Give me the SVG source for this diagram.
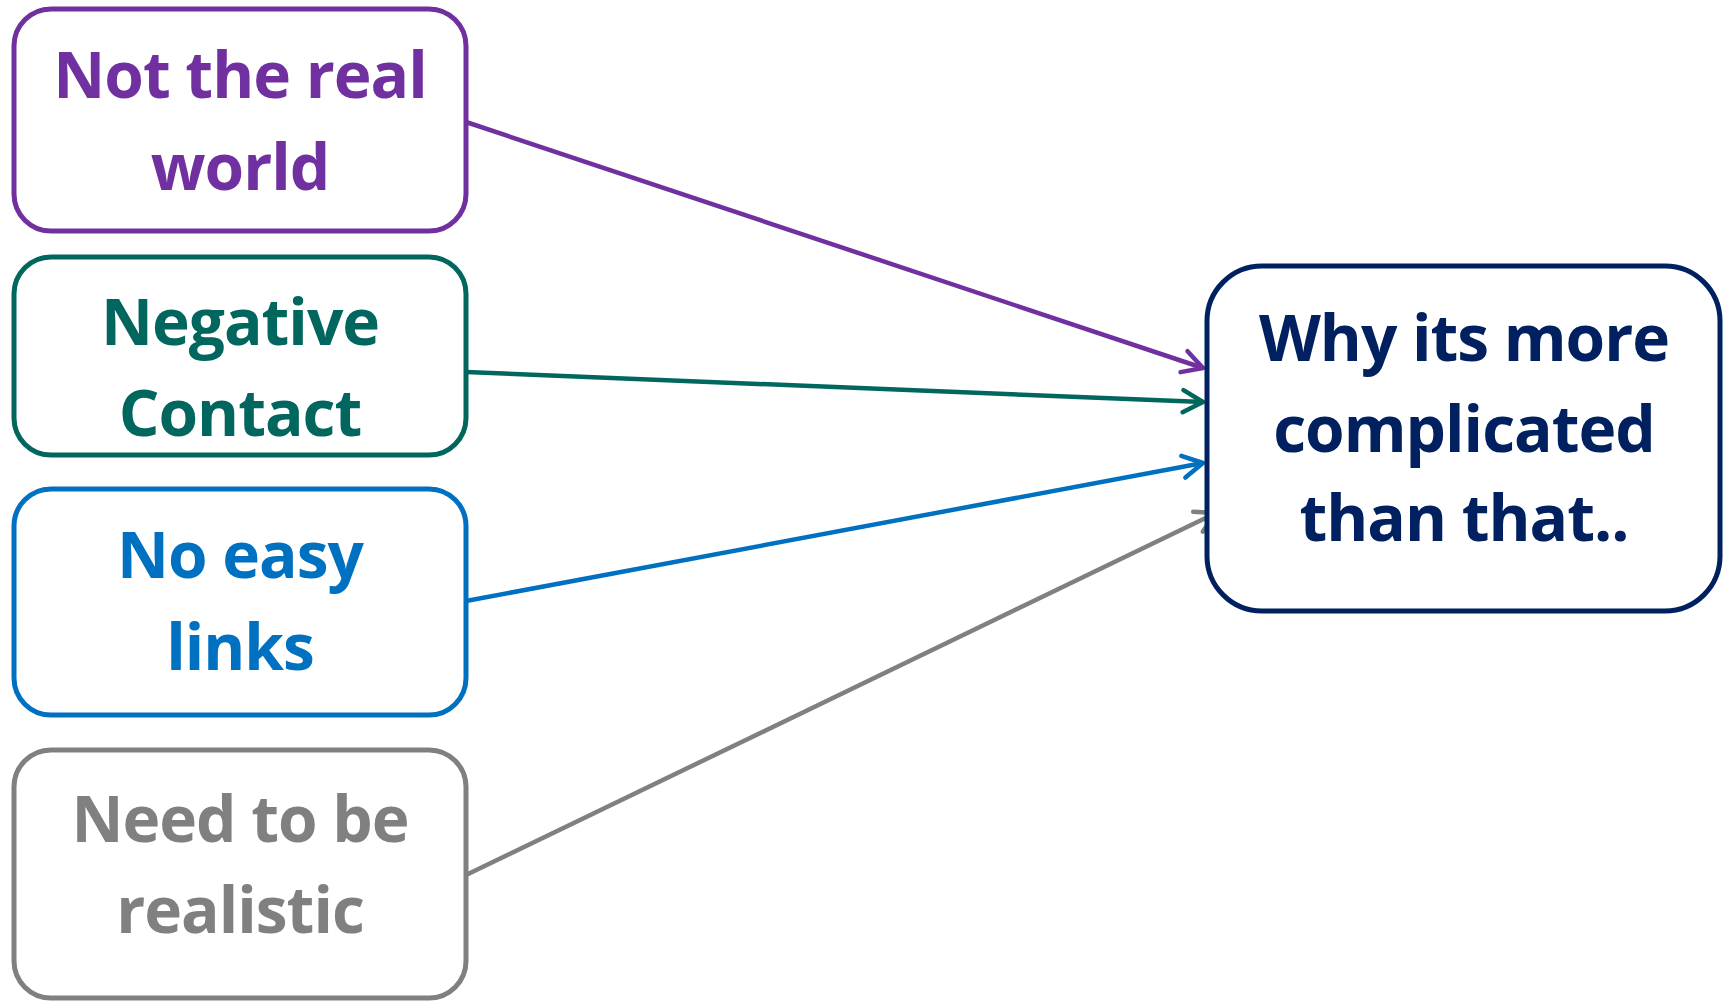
<svg xmlns="http://www.w3.org/2000/svg" width="1729" height="1001" viewBox="0 0 1729 1001">
<style>
.box{fill:#fff;stroke-width:5}
.t{font-family:"Open Sans","Liberation Sans",sans-serif;font-weight:700;font-size:64px;text-anchor:middle;letter-spacing:-1px}
.c{fill:none;stroke-width:4.5}
.m{fill:none;stroke-width:4.5;stroke-linecap:round;stroke-linejoin:round}
</style>
<defs>
<marker id="aP" markerUnits="userSpaceOnUse" markerWidth="40" markerHeight="40" refX="0" refY="0" viewBox="-30 -20 40 40" orient="auto"><path class="m" stroke="#7030A0" d="M-20,-11 L0,0 L-20,11"/></marker>
<marker id="aT" markerUnits="userSpaceOnUse" markerWidth="40" markerHeight="40" refX="0" refY="0" viewBox="-30 -20 40 40" orient="auto"><path class="m" stroke="#00665E" d="M-20,-11 L0,0 L-20,11"/></marker>
<marker id="aB" markerUnits="userSpaceOnUse" markerWidth="40" markerHeight="40" refX="0" refY="0" viewBox="-30 -20 40 40" orient="auto"><path class="m" stroke="#0070C0" d="M-20,-11 L0,0 L-20,11"/></marker>
<marker id="aG" markerUnits="userSpaceOnUse" markerWidth="40" markerHeight="40" refX="0" refY="0" viewBox="-30 -20 40 40" orient="auto"><path class="m" stroke="#808080" d="M-20,-11 L0,0 L-20,11"/></marker>
</defs>
<g id="connectors">
<line class="c" stroke="#7030A0" x1="466" y1="122" x2="1203" y2="368" marker-end="url(#aP)"/>
<line class="c" stroke="#00665E" x1="466" y1="372" x2="1203" y2="402" marker-end="url(#aT)"/>
<line class="c" stroke="#0070C0" x1="466" y1="601" x2="1203" y2="463" marker-end="url(#aB)"/>
<line class="c" stroke="#808080" x1="466" y1="875" x2="1216" y2="513" marker-end="url(#aG)"/>
</g>
<g id="n1">
<rect class="box" stroke="#7030A0" x="14" y="9" width="452" height="222" rx="37"/>
<text class="t" fill="#7030A0" x="240" y="98">Not the real</text>
<text class="t" fill="#7030A0" x="240" y="190">world</text>
</g>
<g id="n2">
<rect class="box" stroke="#00665E" x="14" y="257" width="452" height="198" rx="37"/>
<text class="t" fill="#00665E" x="240" y="345">Negative</text>
<text class="t" fill="#00665E" x="240" y="436">Contact</text>
</g>
<g id="n3">
<rect class="box" stroke="#0070C0" x="14" y="489" width="452" height="226" rx="37"/>
<text class="t" fill="#0070C0" x="240" y="578">No easy</text>
<text class="t" fill="#0070C0" x="240" y="670">links</text>
</g>
<g id="n4">
<rect class="box" stroke="#808080" x="14" y="750" width="452" height="248" rx="37"/>
<text class="t" fill="#808080" x="240" y="842">Need to be</text>
<text class="t" fill="#808080" x="240" y="933">realistic</text>
</g>
<g id="n5">
<rect class="box" stroke="#002060" x="1207" y="266" width="513" height="345" rx="55"/>
<text class="t" fill="#002060" x="1464" y="361">Why its more</text>
<text class="t" fill="#002060" x="1464" y="452">complicated</text>
<text class="t" fill="#002060" x="1464" y="541">than that..</text>
</g>
</svg>
